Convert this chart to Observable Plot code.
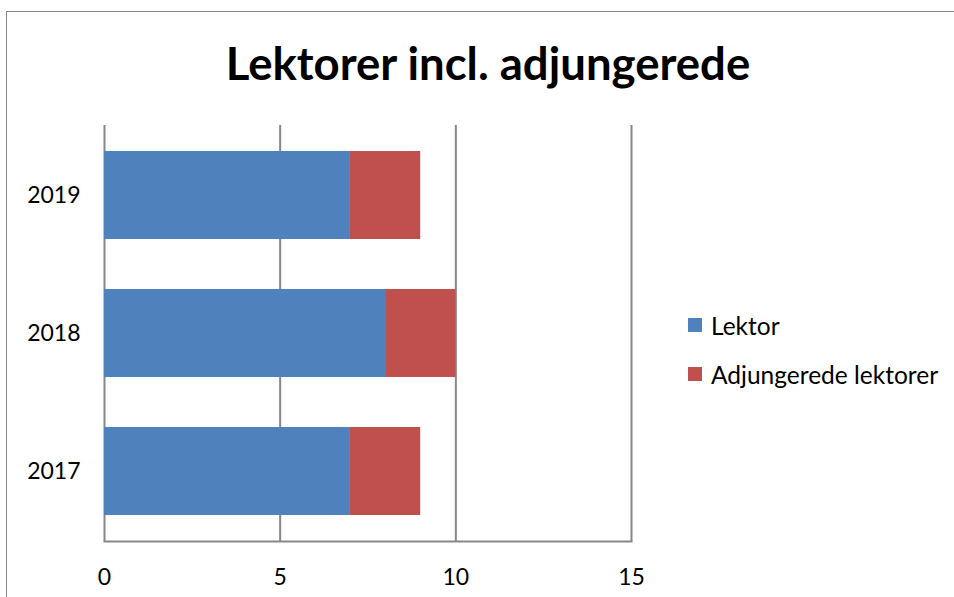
<!DOCTYPE html>
<html>
<head>
<meta charset="utf-8">
<script src="https://cdn.jsdelivr.net/npm/d3@7"></script>
<script src="https://cdn.jsdelivr.net/npm/@observablehq/plot@0.6"></script>
<style>
  html, body { margin: 0; padding: 0; background: #fff; }
  #wrap { position: relative; width: 954px; height: 597px; overflow: hidden; font-family: Lato, "Open Sans", sans-serif; }
  #frame { position: absolute; left: 6px; top: 11px; width: 1000px; height: 620px; border: 1.5px solid #878787; box-sizing: border-box; }
  #title { position: absolute; left: 0; width: 976px; top: 40px; text-align: center; font-weight: bold; font-size: 45.5px; color: #000; line-height: 1; }
  #chart { position: absolute; left: 0; top: 0; }
  #legend { position: absolute; left: 688px; top: 312px; font-size: 24.5px; color: #000; }
  .item { display: flex; align-items: center; height: 26px; margin-bottom: 23px; }
  .sw { width: 14px; height: 14px; margin-right: 9px; }
</style>
</head>
<body>
<div id="wrap">
  <div id="frame"></div>
  <div id="title">Lektorer incl. adjungerede</div>
  <div id="chart"></div>
  <div id="legend"></div>
</div>
<script>
const years = ["2019", "2018", "2017"];
const seriesNames = ["Lektor", "Adjungerede lektorer"];
const lektor = [7, 8, 7];
const adjungerede = [2, 2, 2];
const colors = ["#4F81BD", "#C0504D"];
const xTicks = [0, 5, 10, 15];

const data = [];
years.forEach((y, i) => {
  data.push({ year: y, series: seriesNames[0], value: lektor[i] });
  data.push({ year: y, series: seriesNames[1], value: adjungerede[i] });
});

const plot = Plot.plot({
  width: 954,
  height: 597,
  marginTop: 125,
  marginBottom: 56,
  marginLeft: 104,
  marginRight: 323,
  style: { fontFamily: "Lato, 'Open Sans', sans-serif", fontSize: "23px", color: "#000", background: "transparent" },
  x: { domain: [0, 15], ticks: xTicks, tickSize: 0, tickPadding: 27, label: null },
  y: { domain: years, paddingInner: 0.36, paddingOuter: 0.18, tickSize: 0, tickPadding: 24, label: null },
  color: { domain: seriesNames, range: colors },
  marks: [
    Plot.ruleX(xTicks, { stroke: "#878787", strokeWidth: 2 }),
    Plot.barX(data, { x: "value", y: "year", fill: "series", order: seriesNames }),
    Plot.frame({ anchor: "bottom", stroke: "#878787", strokeWidth: 2 })
  ]
});
document.getElementById("chart").appendChild(plot);

const legend = document.getElementById("legend");
seriesNames.forEach((s, i) => {
  const d = document.createElement("div");
  d.className = "item";
  d.innerHTML = `<span class="sw" style="background:${colors[i]}"></span><span>${s}</span>`;
  legend.appendChild(d);
});
</script>
</body>
</html>
